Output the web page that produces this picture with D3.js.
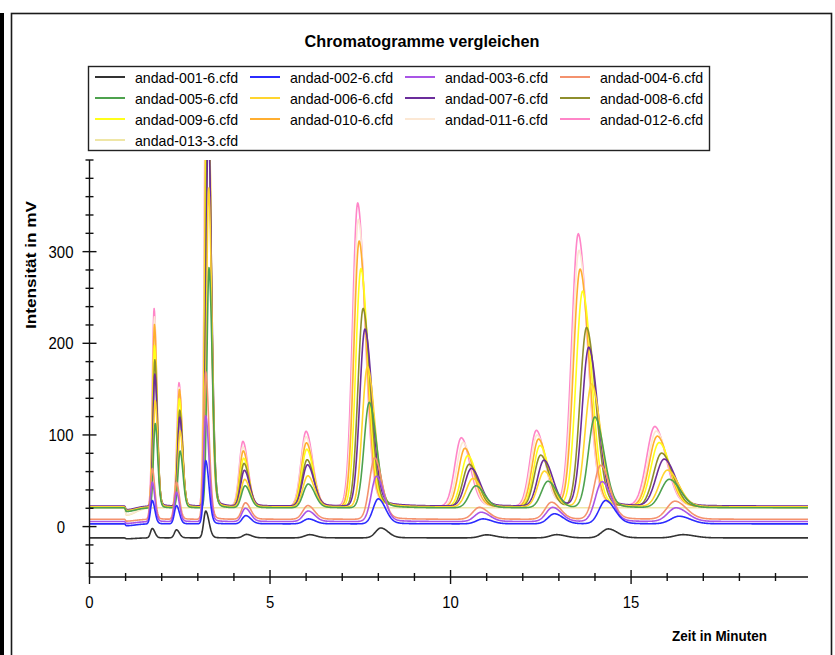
<!DOCTYPE html>
<html>
<head>
<meta charset="utf-8">
<script src="https://cdn.jsdelivr.net/npm/d3@7"></script>
<style>
  body { margin: 0; background: #fff; }
  svg { display: block; }
  text { font-family: "Liberation Sans", Arial, sans-serif; fill: #000; }
</style>
</head>
<body>
<div id="chart"></div>
<script>
////chromatogram overlay: 13 runs, peaks

const fileNames = ["andad-001-6.cfd", "andad-002-6.cfd", "andad-003-6.cfd", "andad-004-6.cfd",
                   "andad-005-6.cfd", "andad-006-6.cfd", "andad-007-6.cfd", "andad-008-6.cfd",
                   "andad-009-6.cfd", "andad-010-6.cfd", "andad-011-6.cfd", "andad-012-6.cfd",
                   "andad-013-3.cfd"];

const lineColors = ["#333333", "#2b2bff", "#a955e6", "#f4926e",
                    "#4ea24e", "#ffd52e", "#6b2d9b", "#8e8e2c",
                    "#ffff1a", "#ffae30", "#fce8d4", "#ff86c8",
                    "#efe6a6"];

////baseline in mV for every run
const baseline = [-12.3, 3, 5.5, 8, 20.5, 21.5, 22.5, 21, 21.5, 21.5, 21, 22, 20.5];

////depth of the injection dip at about 1 min
const dipDepth = [1, 2, 2, 2, 4, 4, 4, 4, 4, 4, 8, 4, 8];

////retention times (min) of the ten peaks, one row per run
const peakTimes = [
  [1.74, 2.41, 3.22, 4.35, 6.10, 8.07, 11.00, 12.94, 14.37, 16.44],
  [1.74, 2.41, 3.22, 4.33, 6.07, 8.00, 10.90, 12.88, 14.30, 16.33],
  [1.74, 2.41, 3.22, 4.32, 6.06, 7.95, 10.85, 12.83, 14.20, 16.25],
  [1.74, 2.41, 3.22, 4.32, 6.05, 7.90, 10.80, 12.80, 14.16, 16.22],
  [1.82, 2.51, 3.31, 4.31, 6.06, 7.75, 10.70, 12.70, 14.00, 16.06],
  [1.82, 2.51, 3.30, 4.30, 6.05, 7.70, 10.62, 12.60, 13.91, 16.01],
  [1.81, 2.50, 3.29, 4.29, 6.04, 7.63, 10.58, 12.59, 13.83, 15.92],
  [1.81, 2.50, 3.28, 4.28, 6.03, 7.58, 10.52, 12.50, 13.77, 15.85],
  [1.80, 2.49, 3.27, 4.27, 6.02, 7.52, 10.48, 12.48, 13.66, 15.78],
  [1.80, 2.49, 3.26, 4.26, 6.01, 7.47, 10.40, 12.44, 13.59, 15.73],
  [1.80, 2.48, 3.25, 4.25, 6.00, 7.45, 10.35, 12.40, 13.56, 15.70],
  [1.79, 2.48, 3.25, 4.25, 6.00, 7.43, 10.30, 12.38, 13.54, 15.66],
  [1.80, 2.48, 3.25, 4.25, 6.00, 7.45, 10.35, 12.40, 13.56, 15.70]
];

////peak heights above baseline (mV), one row per run
const peakHeights = [
  [10.3, 8.8, 29.3, 3.8, 3.5, 10.8, 3.3, 3.5, 9.8, 3.5],
  [25.5, 20, 69, 9, 5.4, 27.3, 5.4, 11, 25.5, 8.3],
  [43, 32, 115.5, 14.5, 11.5, 49.5, 10.2, 15.5, 43.5, 15],
  [55.5, 40.5, 161, 18, 15, 67, 13, 18.6, 58.8, 19.7],
  [92, 62, 262, 24, 26, 115, 24, 29, 99, 31],
  [116, 83, 348, 30, 34, 153, 31, 39, 134, 40],
  [144, 97, 420, 39, 45, 193, 41, 50, 173, 51],
  [161, 106, 450, 48, 52, 217, 47, 57, 196, 59],
  [176, 118, 520, 53, 63, 260, 56, 67, 235, 70],
  [199, 128, 580, 61, 70, 290, 64, 74, 259, 77],
  [208, 131, 600, 66, 77, 314, 71, 79, 280, 83],
  [216, 135, 630, 71, 82, 331, 75, 83, 297, 87],
  [0, 0, 0, 0, 0, 0, 0, 0, 0, 0]
];

////peak widths (sigma, min) front and tail side, plus the slow tail after each peak
const peakWidthLeft  = [0.05, 0.058, 0.058, 0.1, 0.14, 0.145, 0.18, 0.18, 0.185, 0.23];
const peakWidthRight = [0.07, 0.08, 0.09, 0.14, 0.18, 0.2, 0.24, 0.24, 0.25, 0.31];
const tailTime       = [0.12, 0.14, 0.15, 0.3, 0.4, 0.45, 0.5, 0.5, 0.5, 0.6];
const tailShare = 0.07;

const xLabelTicks = [0, 5, 10, 15];
const yLabelTicks = [0, 100, 200, 300];

const width = 835, height = 655;

const svg = d3.select("#chart").append("svg")
    .attr("width", width)
    .attr("height", height);

////outer frame + black bar at the left edge
svg.append("rect").attr("x", 0).attr("y", 13).attr("width", 4).attr("height", 660).attr("fill", "#000");
svg.append("rect").attr("x", 11.5).attr("y", 13.5).attr("width", 820).attr("height", 700)
    .attr("fill", "none").attr("stroke", "#1a1a1a").attr("stroke-width", 1.6);

svg.append("text")
    .attr("x", 422).attr("y", 47)
    .attr("text-anchor", "middle")
    .attr("font-weight", "bold").attr("font-size", 17)
    .attr("textLength", 235).attr("lengthAdjust", "spacingAndGlyphs")
    .text("Chromatogramme vergleichen");

////scales
const x = d3.scaleLinear().domain([0, 19.9]).range([89.5, 808]);
const y = d3.scaleLinear().domain([-55, 400]).range([577, 160]);

svg.append("clipPath").attr("id", "plotclip")
  .append("rect").attr("x", x(0)).attr("y", y(400)).attr("width", x(19.9) - x(0)).attr("height", y(-55) - y(400));

////signal of run i at time t = baseline + dip + tailing peaks
function signal(i, t) {
  let v = baseline[i];
  const dt = t - 1.02;
  v -= dipDepth[i] * Math.exp(-0.5 * Math.pow(dt / (dt < 0 ? 0.02 : 0.25), 2));
  peakTimes[i].forEach((rt, k) => {
    const d = t - rt;
    let g;
    if (d < 0) {
      g = Math.exp(-0.5 * Math.pow(d / peakWidthLeft[k], 2));
    } else {
      g = (1 - tailShare) * Math.exp(-0.5 * Math.pow(d / peakWidthRight[k], 2))
        + tailShare * Math.exp(-d / tailTime[k]);
    }
    v += peakHeights[i][k] * g;
  });
  return v;
}

const tGrid = d3.range(0, 19.9001, 0.01);
const line = d3.line().x(d => x(d[0])).y(d => y(d[1]));

const plot = svg.append("g").attr("clip-path", "url(#plotclip)");
const order = d3.range(fileNames.length).reverse();   ////last file drawn first
order.forEach(i => {
  plot.append("path")
      .datum(tGrid.map(t => [t, signal(i, t)]))
      .attr("d", line)
      .attr("fill", "none")
      .attr("stroke", lineColors[i])
      .attr("stroke-width", 1.6)
      .attr("stroke-linejoin", "round");
});

////axes drawn by hand: ticks cross the axis line
const axes = svg.append("g").attr("stroke", "#111").attr("stroke-width", 1.4);
axes.append("line").attr("x1", x(0)).attr("x2", x(19.9)).attr("y1", y(-55)).attr("y2", y(-55));
axes.append("line").attr("x1", x(0)).attr("x2", x(0)).attr("y1", y(-55)).attr("y2", y(400));

x.ticks(20).filter(v => v <= 19).forEach(v => {
  const big = xLabelTicks.includes(v);
  axes.append("line").attr("x1", x(v)).attr("x2", x(v))
      .attr("y1", y(-55) - (big ? 7 : 4)).attr("y2", y(-55) + (big ? 7 : 4));
});
y.ticks(20).forEach(v => {
  const big = yLabelTicks.includes(v);
  axes.append("line").attr("y1", y(v)).attr("y2", y(v))
      .attr("x1", x(0) - (big ? 7 : 4)).attr("x2", x(0) + (big ? 7 : 4));
});

svg.selectAll(".xlab").data(xLabelTicks).enter().append("text")
    .attr("x", d => x(d)).attr("y", 608)
    .attr("text-anchor", "middle").attr("font-size", 17)
    .attr("textLength", d => String(d).length * 8.3).attr("lengthAdjust", "spacingAndGlyphs")
    .text(d => d);

svg.selectAll(".ylab").data(yLabelTicks).enter().append("text")
    .attr("x", 61).attr("y", d => y(d) + 6)
    .attr("text-anchor", "middle").attr("font-size", 17)
    .attr("textLength", d => String(d).length * 8.3).attr("lengthAdjust", "spacingAndGlyphs")
    .text(d => d);

svg.append("text")
    .attr("x", 767).attr("y", 641)
    .attr("text-anchor", "end")
    .attr("font-weight", "bold").attr("font-size", 15)
    .attr("textLength", 95).attr("lengthAdjust", "spacingAndGlyphs")
    .text("Zeit in Minuten");

svg.append("text")
    .attr("transform", "translate(36,265) rotate(-90)")
    .attr("text-anchor", "middle")
    .attr("font-weight", "bold").attr("font-size", 15)
    .attr("textLength", 128).attr("lengthAdjust", "spacingAndGlyphs")
    .text("Intensität in mV");

////legend box, 4 columns
const legend = svg.append("g");
legend.append("rect")
    .attr("x", 88.5).attr("y", 66.5).attr("width", 621).attr("height", 84)
    .attr("fill", "#fff").attr("stroke", "#222").attr("stroke-width", 1.4);

const items = legend.selectAll(".item").data(fileNames).enter().append("g")
    .attr("transform", (d, i) => `translate(${95 + 155 * (i % 4)},${77 + 21 * Math.floor(i / 4)})`);
items.append("line")
    .attr("x1", 0).attr("x2", 30).attr("y1", 0).attr("y2", 0)
    .attr("stroke", (d, i) => lineColors[i]).attr("stroke-width", 2);
items.append("text")
    .attr("x", 40).attr("y", 5.5)
    .attr("font-size", 15)
    .attr("textLength", 103).attr("lengthAdjust", "spacingAndGlyphs")
    .text(d => d);
</script>
</body>
</html>
